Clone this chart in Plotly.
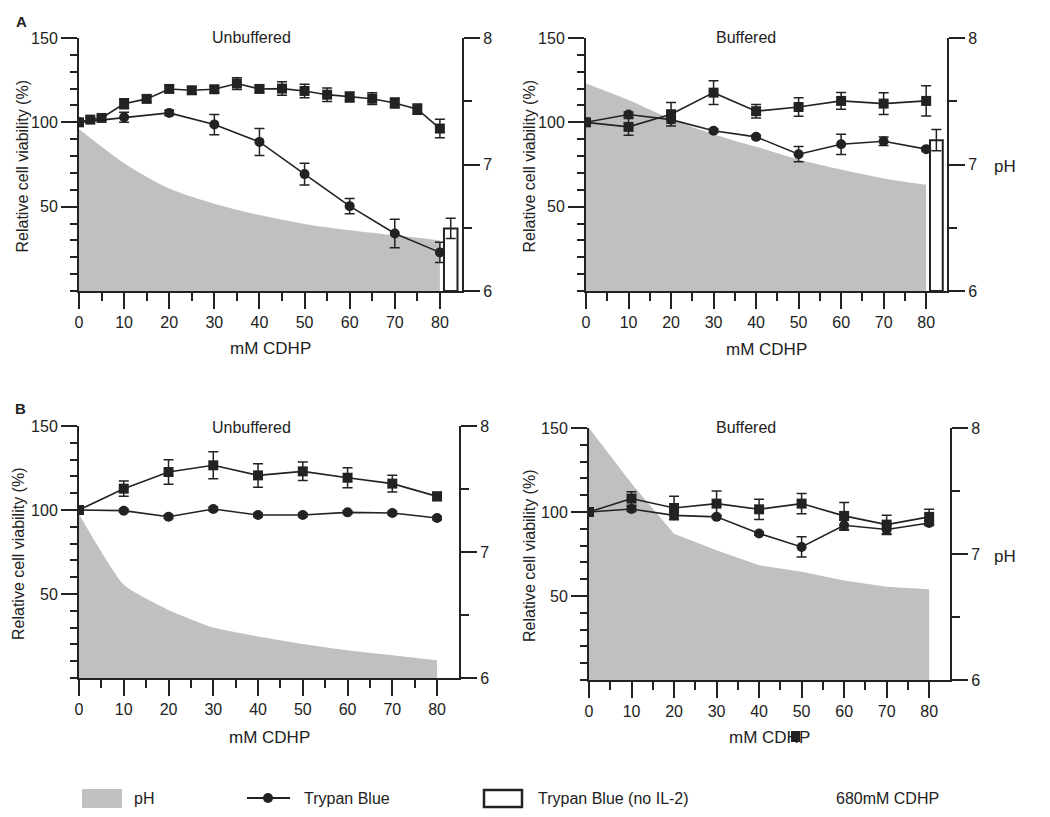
import plotly.graph_objects as go

# ---------------- DATA ----------------
conc_fine = [0, 2.5, 5, 10, 15, 20, 25, 30, 35, 40, 45, 50, 55, 60, 65, 70, 75, 80]
conc = [0, 10, 20, 30, 40, 50, 60, 70, 80]
conc_nil2 = [82.4]

# Panel A - Unbuffered
A_unbuf_sq = [100, 101.6, 102.6, 111, 113.9, 119.8, 119, 119.6, 123, 119.8, 120, 118.6, 116.4, 115, 114, 111.5, 107.8, 96.3]
A_unbuf_sq_err = [1.2, 1.2, 1.2, 3, 2, 2, 2, 2, 3.5, 2, 4, 4, 4, 3, 3.5, 3, 3, 5.5]
A_unbuf_tb = [100, 103, 105.6, 98.7, 88.4, 69.3, 50.3, 34.1, 22.9]
A_unbuf_tb_err = [1, 3, 1.5, 6, 8, 6.5, 4.5, 8.5, 6]
A_unbuf_pH = [7.28, 7.01, 6.81, 6.69, 6.60, 6.53, 6.48, 6.44, 6.40]
A_unbuf_nil2 = [37.1]
A_unbuf_nil2_err = [6]

# Panel A - Buffered
A_buf_sq = [100, 97.3, 104.8, 117.6, 106.6, 109.1, 112.7, 111.1, 112.7]
A_buf_sq_err = [1, 5, 7, 7, 4, 5.5, 5, 6.5, 9]
A_buf_tb = [100, 104.6, 101.6, 95, 91.4, 81.1, 87, 88.8, 84.1]
A_buf_tb_err = [1, 1.5, 2, 1, 1, 4.5, 6, 2.5, 1]
A_buf_pH = [7.64, 7.51, 7.36, 7.24, 7.14, 7.04, 6.96, 6.89, 6.84]
A_buf_nil2 = [89.4]
A_buf_nil2_err = [6.3]

# Panel B - Unbuffered
B_unbuf_sq = [100, 112.7, 122.6, 126.6, 120.6, 123, 119.2, 115.7, 108.1]
B_unbuf_sq_err = [1, 4.5, 7.3, 8, 7, 5.5, 6, 5, 2.5]
B_unbuf_tb = [100, 99.6, 96, 100.6, 97, 97, 98.6, 98.2, 95.2]
B_unbuf_tb_err = [0.8, 1, 1, 1, 1, 1, 1, 1, 1]
B_unbuf_pH = [7.30, 6.74, 6.54, 6.40, 6.33, 6.27, 6.22, 6.18, 6.14]

# Panel B - Buffered
B_buf_sq = [100, 108, 102.4, 105, 101.6, 105, 97.7, 92.5, 97.1]
B_buf_sq_err = [1, 4, 7, 7.5, 6, 6, 8, 5.5, 4.5]
B_buf_tb = [100, 101.8, 98, 97.1, 87.2, 79.2, 92.1, 89.6, 93.5]
B_buf_tb_err = [1, 1.5, 1.5, 1, 1, 6, 3, 3, 1.5]
B_buf_pH = [8.0, 7.56, 7.16, 7.03, 6.91, 6.86, 6.79, 6.74, 6.72]

# ---------------- STYLE ----------------
W, H = 1050, 817
INK = "#222222"
GRAY = "#c0c0c0"
FONT = "Liberation Sans"


def px(x):
    return x / W


def py(y):
    return 1 - y / H


panels = [
    dict(dom=(79, 462, 38, 291), sq_x=conc_fine, sq=A_unbuf_sq, sq_err=A_unbuf_sq_err,
         tb=A_unbuf_tb, tb_err=A_unbuf_tb_err, pH=A_unbuf_pH, shape="spline", smooth=0.8,
         nil2=A_unbuf_nil2, nil2_err=A_unbuf_nil2_err, title="Unbuffered",
         title_xy=(251, 38), ytitle_x=22, xtitle_y=348, ph_label=False),
    dict(dom=(586, 947, 38, 291), sq_x=conc, sq=A_buf_sq, sq_err=A_buf_sq_err,
         tb=A_buf_tb, tb_err=A_buf_tb_err, pH=A_buf_pH, shape="spline", smooth=0.8,
         nil2=A_buf_nil2, nil2_err=A_buf_nil2_err, title="Buffered",
         title_xy=(746, 38), ytitle_x=529, xtitle_y=349, ph_label=True),
    dict(dom=(79, 459, 426, 678), sq_x=conc, sq=B_unbuf_sq, sq_err=B_unbuf_sq_err,
         tb=B_unbuf_tb, tb_err=B_unbuf_tb_err, pH=B_unbuf_pH, shape="spline", smooth=0.5,
         nil2=None, nil2_err=None, title="Unbuffered",
         title_xy=(251, 427), ytitle_x=18, xtitle_y=737, ph_label=False),
    dict(dom=(589, 950, 428, 680), sq_x=conc, sq=B_buf_sq, sq_err=B_buf_sq_err,
         tb=B_buf_tb, tb_err=B_buf_tb_err, pH=B_buf_pH, shape="linear", smooth=0,
         nil2=None, nil2_err=None, title="Buffered",
         title_xy=(746, 427), ytitle_x=529, xtitle_y=737, ph_label=True),
]

fig = go.Figure()
layout = {}
annotations = []
shapes = []

tickfont = dict(family=FONT, size=16, color=INK)

for i, p in enumerate(panels):
    k = i + 1
    xa = f"x{k}" if k > 1 else "x"
    ph_n = 2 * k - 1
    v_n = 2 * k
    ya_ph = f"y{ph_n}" if ph_n > 1 else "y"
    ya_v = f"y{v_n}"
    x0, x1, y0, y1 = p["dom"]

    layout[f"xaxis{k if k > 1 else ''}"] = dict(
        domain=[px(x0), px(x1)], range=[0, 84.9], anchor=ya_ph,
        tickmode="linear", tick0=0, dtick=10,
        ticks="outside", ticklen=16, tickwidth=2, tickcolor=INK,
        minor=dict(ticks="outside", ticklen=8, tickwidth=2, tickcolor=INK, tick0=0, dtick=5),
        showline=True, linecolor=INK, linewidth=2, automargin=False,
        showgrid=False, zeroline=False, tickfont=tickfont, fixedrange=True,
    )
    layout[f"yaxis{ph_n if ph_n > 1 else ''}"] = dict(
        domain=[py(y1), py(y0)], range=[6, 8], anchor=xa, side="right",
        tickmode="array", tickvals=[6, 7, 8],
        ticks="outside", ticklen=16, tickwidth=2, tickcolor=INK,
        minor=dict(ticks="outside", ticklen=8, tickwidth=2, tickcolor=INK, tick0=6, dtick=0.5),
        showline=True, linecolor=INK, linewidth=2, automargin=False,
        showgrid=False, zeroline=False, tickfont=tickfont, fixedrange=True,
    )
    layout[f"yaxis{v_n}"] = dict(
        domain=[py(y1), py(y0)], range=[0, 150], anchor=xa, side="left",
        overlaying=ya_ph,
        tickmode="array", tickvals=[50, 100, 150],
        ticks="outside", ticklen=16, tickwidth=2, tickcolor=INK,
        minor=dict(ticks="outside", ticklen=7, tickwidth=2, tickcolor=INK, tick0=0, dtick=10),
        showline=True, linecolor=INK, linewidth=2, automargin=False,
        showgrid=False, zeroline=False, tickfont=tickfont, fixedrange=True,
    )

    # pH area (drawn on the base subplot, behind everything)
    fig.add_trace(go.Scatter(
        x=conc, y=p["pH"], xaxis=xa, yaxis=ya_ph, mode="lines",
        line=dict(width=0, color=GRAY, shape=p["shape"],
                  **({"smoothing": p["smooth"]} if p["shape"] == "spline" else {})),
        fill="tozeroy", fillcolor=GRAY, showlegend=False, hoverinfo="skip",
    ))

    # Square series
    fig.add_trace(go.Scatter(
        x=p["sq_x"], y=p["sq"], xaxis=xa, yaxis=ya_v, mode="lines+markers",
        line=dict(color=INK, width=1.6),
        marker=dict(symbol="square", size=10, color=INK),
        error_y=dict(type="data", array=p["sq_err"], visible=True,
                     thickness=1.5, width=5, color=INK),
        showlegend=False,
    ))
    # Trypan Blue (circles)
    fig.add_trace(go.Scatter(
        x=conc, y=p["tb"], xaxis=xa, yaxis=ya_v, mode="lines+markers",
        line=dict(color=INK, width=1.6),
        marker=dict(symbol="circle", size=10, color=INK),
        error_y=dict(type="data", array=p["tb_err"], visible=True,
                     thickness=1.5, width=5, color=INK),
        showlegend=False,
    ))
    if p["nil2"] is not None:
        fig.add_trace(go.Bar(
            x=conc_nil2, y=p["nil2"], xaxis=xa, yaxis=ya_v, width=3,
            marker=dict(color="white", line=dict(color=INK, width=2)),
            error_y=dict(type="data", array=p["nil2_err"], visible=True,
                         thickness=1.5, width=5, color=INK),
            showlegend=False,
        ))

    # titles
    annotations.append(dict(x=px(p["title_xy"][0]), y=py(p["title_xy"][1]),
                            xref="paper", yref="paper", text=p["title"], showarrow=False,
                            xanchor="center", yanchor="middle",
                            font=dict(family=FONT, size=16, color=INK)))
    annotations.append(dict(x=px(p["ytitle_x"]), y=py((y0 + y1) / 2 + 2),
                            xref="paper", yref="paper", text="Relative cell viability (%)",
                            textangle=-90, showarrow=False, xanchor="center", yanchor="middle",
                            font=dict(family=FONT, size=16, color=INK)))
    annotations.append(dict(x=px((x0 + x1) / 2), y=py(p["xtitle_y"]),
                            xref="paper", yref="paper", text="mM CDHP", showarrow=False,
                            xanchor="center", yanchor="middle",
                            font=dict(family=FONT, size=17, color=INK)))
    if p["ph_label"]:
        annotations.append(dict(x=px(1005), y=py((y0 + y1) / 2 + 2),
                                xref="paper", yref="paper", text="pH", showarrow=False,
                                xanchor="center", yanchor="middle",
                                font=dict(family=FONT, size=17, color=INK)))

# panel letters
for letter, (lx, ly) in (("A", (21, 21)), ("B", (20, 408))):
    annotations.append(dict(x=px(lx), y=py(ly), xref="paper", yref="paper", text=f"<b>{letter}</b>",
                            showarrow=False, xanchor="center", yanchor="middle",
                            font=dict(family=FONT, size=15, color=INK)))

# stray legend glyph over the last x-axis title (as in the reference)
shapes.append(dict(type="rect", xref="paper", yref="paper",
                   x0=px(791), x1=px(800), y0=py(742), y1=py(731),
                   fillcolor=INK, line=dict(width=0)))

# ---------- legend (manual) ----------
LY = 798
shapes.append(dict(type="rect", xref="paper", yref="paper",
                   x0=px(82), x1=px(122), y0=py(808), y1=py(789),
                   fillcolor=GRAY, line=dict(width=0)))
annotations.append(dict(x=px(132), y=py(LY), xref="paper", yref="paper", text="pH",
                        showarrow=False, xanchor="left", yanchor="middle",
                        font=dict(family=FONT, size=16, color=INK)))
shapes.append(dict(type="line", xref="paper", yref="paper",
                   x0=px(247), x1=px(290), y0=py(LY), y1=py(LY),
                   line=dict(color=INK, width=2)))
shapes.append(dict(type="circle", xref="paper", yref="paper",
                   x0=px(263), x1=px(273), y0=py(LY + 5), y1=py(LY - 5),
                   fillcolor=INK, line=dict(width=0)))
annotations.append(dict(x=px(302), y=py(LY), xref="paper", yref="paper", text="Trypan Blue",
                        showarrow=False, xanchor="left", yanchor="middle",
                        font=dict(family=FONT, size=16, color=INK)))
shapes.append(dict(type="rect", xref="paper", yref="paper",
                   x0=px(484), x1=px(522), y0=py(807), y1=py(790),
                   fillcolor="white", line=dict(color=INK, width=2.5)))
annotations.append(dict(x=px(536), y=py(LY), xref="paper", yref="paper", text="Trypan Blue (no IL-2)",
                        showarrow=False, xanchor="left", yanchor="middle",
                        font=dict(family=FONT, size=16, color=INK)))
annotations.append(dict(x=px(834), y=py(LY), xref="paper", yref="paper", text="680mM CDHP",
                        showarrow=False, xanchor="left", yanchor="middle",
                        font=dict(family=FONT, size=16, color=INK)))

fig.update_layout(
    **layout,
    width=W, height=H,
    margin=dict(l=0, r=0, t=0, b=0, autoexpand=False),
    paper_bgcolor="white", plot_bgcolor="rgba(0,0,0,0)",
    showlegend=False,
    annotations=annotations, shapes=shapes,
    font=dict(family=FONT, color=INK),
    barmode="overlay",
)

fig.write_html(
    "out.html",
    config={"displayModeBar": False},
    post_script="document.body.style.margin='0';document.body.style.overflow='hidden';",
)
